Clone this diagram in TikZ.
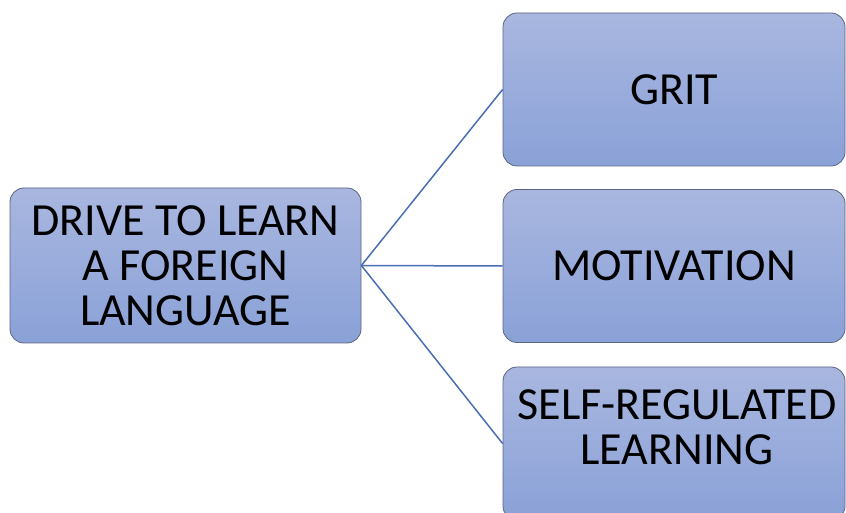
\documentclass[tikz,border=0pt]{standalone}
\usepackage{fontspec}
\setmainfont{Carlito}
\definecolor{topc}{HTML}{A9B7E0}
\definecolor{botc}{HTML}{8AA1D7}
\definecolor{edgec}{HTML}{5A6580}
\definecolor{linec}{HTML}{4A6DB3}
\tikzset{
  boxstyle/.style={draw=edgec, line width=0.8pt, rounded corners=14pt, top color=topc, bottom color=botc,
    align=center, font=\fontsize{46}{45}\selectfont, inner sep=0pt, text=black},
  txt/.style={align=center, font=\fontsize{46}{45}\selectfont, inner sep=0pt, text=black},
  conn/.style={draw=linec, line width=1.5pt}
}
\begin{document}
\begin{tikzpicture}[x=1pt,y=1pt]
\useasboundingbox (0,0) rectangle (846,513);
\clip (0,0) rectangle (846,513);
\node[boxstyle, minimum width=351pt, minimum height=155pt] (drive) at (185.5,247.5) {DRIVE TO LEARN\\A FOREIGN\\LANGUAGE};
\node[boxstyle, minimum width=342pt, minimum height=153pt] (grit) at (674,423.5) {GRIT};
\node[boxstyle, minimum width=342pt, minimum height=153pt] (motiv) at (674,247) {MOTIVATION};
\node[boxstyle, minimum width=342pt, minimum height=153pt] (srl) at (674,69.5) {};
\node[txt] (srltext) at (677,85.5) {SELF-REGULATED\\LEARNING};
\draw[conn] (drive.east) -- (grit.west);
\draw[conn] (drive.east) -- (motiv.west);
\draw[conn] (drive.east) -- (srl.west);
\end{tikzpicture}
\end{document}
